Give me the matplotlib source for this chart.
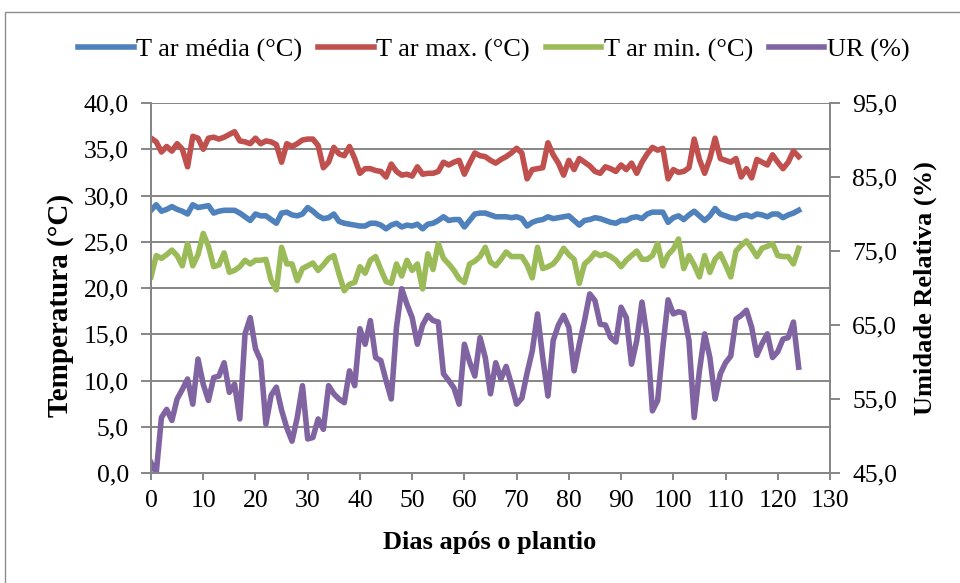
import matplotlib
matplotlib.use("Agg")
import matplotlib.pyplot as plt
import numpy as np
from matplotlib.patches import Rectangle
from matplotlib.ticker import FuncFormatter, MultipleLocator

plt.rcParams['font.family'] = ['Liberation Serif', 'DejaVu Serif']

# dias apos o plantio
dias = np.arange(0, 125)

t_max = [36.2, 35.8, 34.7, 35.3, 34.8, 35.6, 35.0, 33.1, 36.4, 36.2,
         35.0, 36.2, 36.3, 36.1, 36.3, 36.6, 36.9, 35.9, 35.8, 35.6,
         36.2, 35.6, 35.9, 35.8, 35.5, 33.6, 35.6, 35.3, 35.6, 36.0,
         36.1, 36.1, 35.4, 33.0, 33.6, 35.2, 34.5, 34.3, 35.3, 34.0,
         32.4, 32.9, 32.9, 32.7, 32.6, 32.0, 33.4, 32.6, 32.2, 32.3,
         32.1, 33.1, 32.3, 32.4, 32.4, 32.6, 33.6, 33.3, 33.6, 33.8,
         32.3, 33.5, 34.6, 34.3, 34.2, 33.8, 33.5, 33.9, 34.2, 34.6,
         35.1, 34.6, 31.8, 32.8, 32.9, 33.0, 35.7, 34.4, 33.5, 32.2,
         33.8, 32.8, 34.0, 33.6, 33.2, 32.6, 32.4, 33.1, 32.9, 32.6,
         33.3, 32.8, 33.5, 32.4, 33.6, 34.5, 35.2, 34.9, 35.1, 31.8,
         32.8, 32.5, 32.6, 33.0, 36.1, 33.9, 32.4, 34.0, 36.2, 34.0,
         33.8, 33.6, 34.0, 32.0, 32.9, 31.9, 33.9, 33.6, 33.3, 34.4,
         33.6, 32.9, 33.6, 34.8, 34.2]

t_media = [28.4, 29.0, 28.3, 28.5, 28.8, 28.5, 28.3, 28.0, 29.0, 28.7,
           28.8, 28.9, 28.1, 28.3, 28.4, 28.4, 28.4, 28.1, 27.7, 27.3,
           28.0, 27.8, 27.8, 27.4, 27.0, 28.1, 28.2, 27.9, 27.8, 28.0,
           28.7, 28.3, 27.8, 27.5, 27.6, 28.0, 27.2, 27.0, 26.9, 26.8,
           26.7, 26.7, 27.0, 27.0, 26.8, 26.4, 26.8, 27.0, 26.6, 26.8,
           26.7, 26.9, 26.4, 26.9, 27.0, 27.3, 27.7, 27.3, 27.4, 27.4,
           26.6, 27.3, 28.0, 28.1, 28.1, 27.9, 27.7, 27.7, 27.7, 27.6,
           27.7, 27.5, 26.7, 27.1, 27.3, 27.4, 27.7, 27.5, 27.6, 27.7,
           27.8, 27.3, 26.8, 27.3, 27.4, 27.6, 27.5, 27.3, 27.1, 27.0,
           27.3, 27.3, 27.6, 27.7, 27.5, 28.0, 28.2, 28.2, 28.2, 27.1,
           27.6, 27.8, 27.4, 27.9, 28.3, 27.8, 27.3, 27.8, 28.6, 28.0,
           27.8, 27.6, 27.5, 27.8, 27.9, 27.7, 28.0, 27.9, 27.7, 28.0,
           28.0, 27.6, 27.9, 28.1, 28.4]

t_min = [21.2, 23.5, 23.2, 23.6, 24.1, 23.5, 22.4, 24.8, 22.4, 23.6,
         25.9, 24.5, 22.3, 22.5, 23.8, 21.7, 21.9, 22.3, 23.0, 22.6,
         23.0, 23.0, 23.1, 20.8, 19.8, 24.4, 22.6, 22.6, 20.8, 22.1,
         22.4, 22.7, 21.9, 22.5, 23.2, 23.5, 21.5, 19.7, 20.4, 20.6,
         22.3, 21.6, 23.0, 23.4, 22.0, 20.7, 20.5, 22.6, 21.3, 23.0,
         21.9, 22.6, 19.9, 23.7, 22.0, 24.8, 23.2, 22.6, 21.9, 21.0,
         20.6, 22.6, 22.9, 23.4, 24.4, 22.8, 22.4, 23.1, 23.9, 23.4,
         23.4, 23.4, 22.5, 21.1, 24.4, 22.1, 22.3, 22.6, 23.3, 24.3,
         23.6, 23.1, 20.5, 22.6, 23.1, 23.8, 23.5, 23.7, 23.4, 23.0,
         22.3, 23.0, 23.5, 24.0, 23.1, 23.1, 23.5, 24.8, 22.4, 23.6,
         24.2, 25.3, 22.1, 23.5, 22.5, 21.2, 23.5, 21.7, 23.1, 23.7,
         22.5, 21.2, 24.0, 24.6, 25.1, 24.3, 23.4, 24.3, 24.5, 24.8,
         23.5, 23.4, 23.4, 22.6, 24.3]

ur = [46.4, 45.0, 52.5, 53.6, 52.1, 55.0, 56.3, 57.7, 54.3, 60.4,
      57.0, 54.8, 57.9, 58.1, 59.9, 55.9, 57.0, 52.3, 63.8, 66.0,
      61.8, 60.2, 51.6, 55.5, 56.6, 53.5, 51.1, 49.3, 52.5, 56.8,
      49.6, 49.8, 52.3, 50.9, 56.8, 55.7, 55.0, 54.5, 58.8, 56.8,
      64.5, 62.4, 65.6, 60.6, 60.2, 57.5, 55.0, 64.7, 69.9, 67.8,
      66.0, 62.4, 65.0, 66.3, 65.6, 65.4, 58.4, 57.5, 56.5, 54.3,
      62.4, 60.0, 58.1, 63.3, 60.6, 55.7, 59.9, 57.7, 59.4, 57.0,
      54.3, 55.1, 58.5, 61.5, 66.5, 60.6, 55.4, 62.9, 65.0, 66.3,
      64.7, 58.8, 62.4, 65.6, 69.2, 68.3, 65.1, 65.0, 63.3, 62.7,
      67.4, 66.0, 59.7, 62.9, 68.1, 63.3, 53.4, 54.8, 62.0, 68.4,
      66.5, 66.8, 66.6, 62.9, 52.5, 58.8, 63.8, 60.6, 55.0, 58.4,
      59.9, 60.8, 65.8, 66.3, 67.0, 64.7, 60.9, 62.5, 63.8, 60.6,
      61.4, 63.1, 63.3, 65.4, 59.3]

ur_ticks = [45, 55, 65, 75, 85, 95]

W, H = 960, 583
fig = plt.figure(figsize=(9.6, 5.83), dpi=100)

# moldura externa
fig.patches.append(Rectangle((5 / W, -0.01), 1.0, 1 - 12 / H + 0.01,
                             transform=fig.transFigure, fill=False,
                             edgecolor='#8c8c8c', linewidth=1.0))

ax = fig.add_axes([151 / W, 1 - 473 / H, (830 - 151) / W, (473 - 103) / H])
ax2 = ax.twinx()

cinza = '#868686'
lw = 4

l1, = ax.plot(dias, t_media, color='#4F81BD', lw=lw, solid_joinstyle='round', label='T ar média (°C)')
l2, = ax.plot(dias, t_max, color='#C0504D', lw=lw, solid_joinstyle='round', label='T ar max. (°C)')
l3, = ax.plot(dias, t_min, color='#9BBB59', lw=lw, solid_joinstyle='round', label='T ar min. (°C)')
l4, = ax2.plot(dias, ur, color='#8064A2', lw=lw, solid_joinstyle='round', label='UR (%)')

ax.set_xlim(0, 130)
ax.set_ylim(0, 40)
ax2.set_ylim(45, 95)
ax.xaxis.set_major_locator(MultipleLocator(10))
ax.yaxis.set_major_locator(MultipleLocator(5))
ax2.set_yticks(ur_ticks)

virgula = FuncFormatter(lambda v, p: f"{v:.1f}".replace('.', ','))
ax.yaxis.set_major_formatter(virgula)
ax2.yaxis.set_major_formatter(virgula)

ax.grid(axis='y', color=cinza, lw=1.4)
ax.set_axisbelow(True)

for a in (ax, ax2):
    for s in a.spines.values():
        s.set_color(cinza)
        s.set_linewidth(1.4)
    a.spines['top'].set_visible(False)

ax.tick_params(axis='y', direction='out', length=7, width=1.4, color=cinza, pad=9, labelsize=18.5)
ax.tick_params(axis='x', direction='out', length=5, width=1.4, color=cinza, pad=7, labelsize=18.5)
ax2.tick_params(axis='y', direction='out', length=7, width=1.4, color=cinza, pad=9, labelsize=18.5)

fig.text(61 / W, 1 - 305 / H, 'Temperatura (°C)', rotation=90, ha='center', va='center',
         fontsize=21, fontweight='bold')
fig.text(925 / W, 1 - 288 / H, 'Umidade Relativa (%)', rotation=90, ha='center', va='center',
         fontsize=19, fontweight='bold')
fig.text(490 / W, 1 - 543 / H, 'Dias após o plantio', ha='center', va='center',
         fontsize=19, fontweight='bold')

fig.legend(handles=[l1, l2, l3, l4], loc='center', bbox_to_anchor=(494 / W, 1 - 50 / H),
           ncol=4, frameon=False, fontsize=19, handlelength=2.1, handletextpad=0.1,
           columnspacing=0.6, borderaxespad=0)

fig.savefig('out.png', dpi=100)
